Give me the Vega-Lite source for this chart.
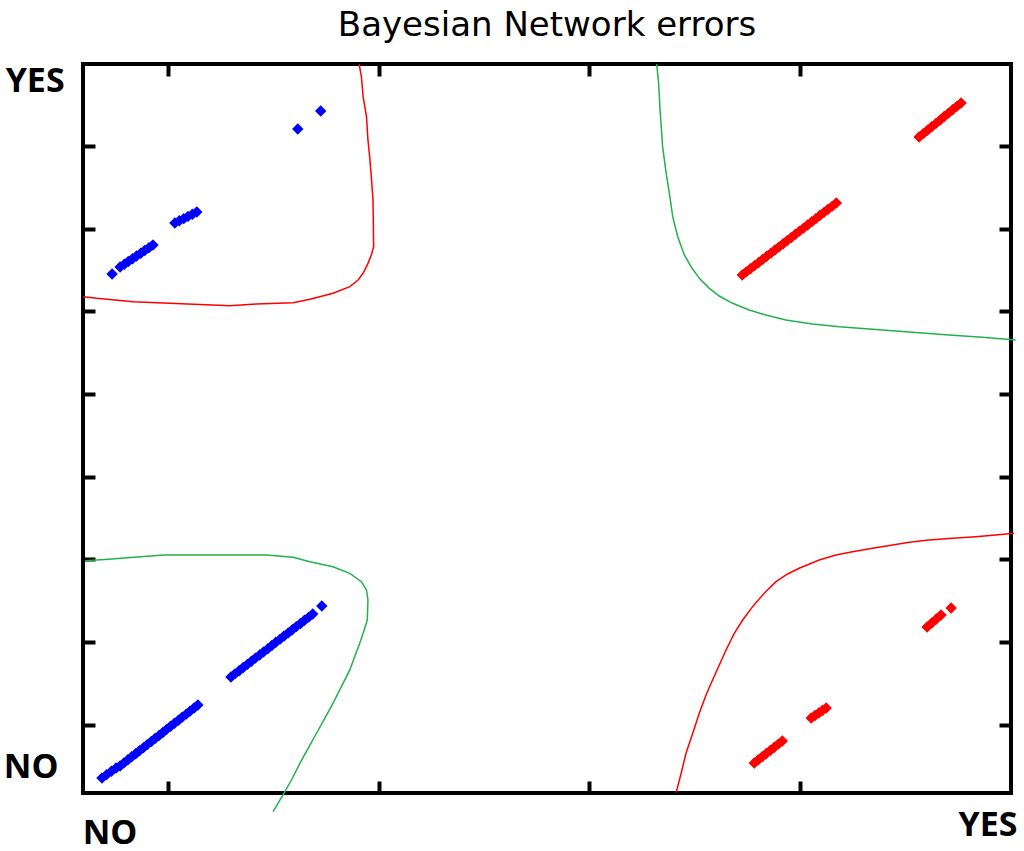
{
  "$schema": "https://vega.github.io/schema/vega-lite/v6.json",
  "autosize": {"type": "none"},
  "width": 928,
  "height": 729,
  "padding": {"left": 83, "top": 64, "right": 13, "bottom": 58},
  "background": "white",
  "view": {"stroke": "black", "strokeWidth": 4, "fill": "white"},
  "title": {"text": "Bayesian Network errors", "font": "DejaVu Sans", "fontSize": 34, "fontWeight": "normal", "color": "black", "anchor": "middle", "frame": "group", "baseline": "alphabetic", "offset": -9},
  "datasets": {
    "curves": [
      {"curve": "A", "cls": "red", "i": 0, "x": 1.907, "y": 7.988},
      {"curve": "A", "cls": "red", "i": 1, "x": 1.918, "y": 7.834},
      {"curve": "A", "cls": "red", "i": 2, "x": 1.926, "y": 7.593},
      {"curve": "A", "cls": "red", "i": 3, "x": 1.942, "y": 7.351},
      {"curve": "A", "cls": "red", "i": 4, "x": 1.949, "y": 7.069},
      {"curve": "A", "cls": "red", "i": 5, "x": 1.957, "y": 6.868},
      {"curve": "A", "cls": "red", "i": 6, "x": 1.965, "y": 6.626},
      {"curve": "A", "cls": "red", "i": 7, "x": 1.973, "y": 6.344},
      {"curve": "A", "cls": "red", "i": 8, "x": 1.976, "y": 5.780},
      {"curve": "A", "cls": "red", "i": 9, "x": 1.965, "y": 5.680},
      {"curve": "A", "cls": "red", "i": 10, "x": 1.949, "y": 5.579},
      {"curve": "A", "cls": "red", "i": 11, "x": 1.926, "y": 5.459},
      {"curve": "A", "cls": "red", "i": 12, "x": 1.902, "y": 5.378},
      {"curve": "A", "cls": "red", "i": 13, "x": 1.863, "y": 5.297},
      {"curve": "A", "cls": "red", "i": 14, "x": 1.783, "y": 5.217},
      {"curve": "A", "cls": "red", "i": 15, "x": 1.720, "y": 5.176},
      {"curve": "A", "cls": "red", "i": 16, "x": 1.673, "y": 5.144},
      {"curve": "A", "cls": "red", "i": 17, "x": 1.594, "y": 5.103},
      {"curve": "A", "cls": "red", "i": 18, "x": 1.420, "y": 5.088},
      {"curve": "A", "cls": "red", "i": 19, "x": 1.294, "y": 5.067},
      {"curve": "A", "cls": "red", "i": 20, "x": 1.009, "y": 5.096},
      {"curve": "A", "cls": "red", "i": 21, "x": 0.836, "y": 5.115},
      {"curve": "A", "cls": "red", "i": 22, "x": 0.662, "y": 5.157},
      {"curve": "A", "cls": "red", "i": 23, "x": 0.599, "y": 5.176},
      {"curve": "B", "cls": "green", "i": 0, "x": 3.319, "y": 7.988},
      {"curve": "B", "cls": "green", "i": 1, "x": 3.328, "y": 7.755},
      {"curve": "B", "cls": "green", "i": 2, "x": 3.335, "y": 7.432},
      {"curve": "B", "cls": "green", "i": 3, "x": 3.347, "y": 6.989},
      {"curve": "B", "cls": "green", "i": 4, "x": 3.364, "y": 6.667},
      {"curve": "B", "cls": "green", "i": 5, "x": 3.379, "y": 6.425},
      {"curve": "B", "cls": "green", "i": 6, "x": 3.395, "y": 6.143},
      {"curve": "B", "cls": "green", "i": 7, "x": 3.419, "y": 5.901},
      {"curve": "B", "cls": "green", "i": 8, "x": 3.450, "y": 5.680},
      {"curve": "B", "cls": "green", "i": 9, "x": 3.482, "y": 5.538},
      {"curve": "B", "cls": "green", "i": 10, "x": 3.521, "y": 5.398},
      {"curve": "B", "cls": "green", "i": 11, "x": 3.569, "y": 5.277},
      {"curve": "B", "cls": "green", "i": 12, "x": 3.616, "y": 5.184},
      {"curve": "B", "cls": "green", "i": 13, "x": 3.679, "y": 5.096},
      {"curve": "B", "cls": "green", "i": 14, "x": 3.758, "y": 5.015},
      {"curve": "B", "cls": "green", "i": 15, "x": 3.837, "y": 4.955},
      {"curve": "B", "cls": "green", "i": 16, "x": 3.932, "y": 4.894},
      {"curve": "B", "cls": "green", "i": 17, "x": 4.058, "y": 4.846},
      {"curve": "B", "cls": "green", "i": 18, "x": 4.185, "y": 4.813},
      {"curve": "B", "cls": "green", "i": 19, "x": 4.311, "y": 4.789},
      {"curve": "B", "cls": "green", "i": 20, "x": 4.438, "y": 4.765},
      {"curve": "B", "cls": "green", "i": 21, "x": 4.564, "y": 4.741},
      {"curve": "B", "cls": "green", "i": 22, "x": 4.706, "y": 4.713},
      {"curve": "B", "cls": "green", "i": 23, "x": 4.864, "y": 4.685},
      {"curve": "B", "cls": "green", "i": 24, "x": 5.022, "y": 4.653},
      {"curve": "C", "cls": "green", "i": 0, "x": 0.607, "y": 1.986},
      {"curve": "C", "cls": "green", "i": 1, "x": 0.717, "y": 2.002},
      {"curve": "C", "cls": "green", "i": 2, "x": 0.978, "y": 2.054},
      {"curve": "C", "cls": "green", "i": 3, "x": 1.468, "y": 2.054},
      {"curve": "C", "cls": "green", "i": 4, "x": 1.594, "y": 2.027},
      {"curve": "C", "cls": "green", "i": 5, "x": 1.673, "y": 1.973},
      {"curve": "C", "cls": "green", "i": 6, "x": 1.783, "y": 1.913},
      {"curve": "C", "cls": "green", "i": 7, "x": 1.863, "y": 1.833},
      {"curve": "C", "cls": "green", "i": 8, "x": 1.918, "y": 1.732},
      {"curve": "C", "cls": "green", "i": 9, "x": 1.942, "y": 1.631},
      {"curve": "C", "cls": "green", "i": 10, "x": 1.949, "y": 1.511},
      {"curve": "C", "cls": "green", "i": 11, "x": 1.946, "y": 1.269},
      {"curve": "C", "cls": "green", "i": 12, "x": 1.926, "y": 1.108},
      {"curve": "C", "cls": "green", "i": 13, "x": 1.910, "y": 0.987},
      {"curve": "C", "cls": "green", "i": 14, "x": 1.886, "y": 0.825},
      {"curve": "C", "cls": "green", "i": 15, "x": 1.863, "y": 0.665},
      {"curve": "C", "cls": "green", "i": 16, "x": 1.823, "y": 0.463},
      {"curve": "C", "cls": "green", "i": 17, "x": 1.783, "y": 0.262},
      {"curve": "C", "cls": "green", "i": 18, "x": 1.744, "y": 0.081},
      {"curve": "C", "cls": "green", "i": 19, "x": 1.705, "y": -0.100},
      {"curve": "C", "cls": "green", "i": 20, "x": 1.665, "y": -0.282},
      {"curve": "C", "cls": "green", "i": 21, "x": 1.626, "y": -0.463},
      {"curve": "C", "cls": "green", "i": 22, "x": 1.586, "y": -0.665},
      {"curve": "C", "cls": "green", "i": 23, "x": 1.546, "y": -0.846},
      {"curve": "C", "cls": "green", "i": 24, "x": 1.499, "y": -1.048},
      {"curve": "D", "cls": "red", "i": 0, "x": 3.411, "y": -0.818},
      {"curve": "D", "cls": "red", "i": 1, "x": 3.435, "y": -0.584},
      {"curve": "D", "cls": "red", "i": 2, "x": 3.458, "y": -0.342},
      {"curve": "D", "cls": "red", "i": 3, "x": 3.490, "y": -0.100},
      {"curve": "D", "cls": "red", "i": 4, "x": 3.521, "y": 0.141},
      {"curve": "D", "cls": "red", "i": 5, "x": 3.553, "y": 0.363},
      {"curve": "D", "cls": "red", "i": 6, "x": 3.584, "y": 0.544},
      {"curve": "D", "cls": "red", "i": 7, "x": 3.616, "y": 0.725},
      {"curve": "D", "cls": "red", "i": 8, "x": 3.648, "y": 0.906},
      {"curve": "D", "cls": "red", "i": 9, "x": 3.687, "y": 1.108},
      {"curve": "D", "cls": "red", "i": 10, "x": 3.727, "y": 1.269},
      {"curve": "D", "cls": "red", "i": 11, "x": 3.774, "y": 1.430},
      {"curve": "D", "cls": "red", "i": 12, "x": 3.829, "y": 1.592},
      {"curve": "D", "cls": "red", "i": 13, "x": 3.885, "y": 1.732},
      {"curve": "D", "cls": "red", "i": 14, "x": 3.940, "y": 1.825},
      {"curve": "D", "cls": "red", "i": 15, "x": 3.995, "y": 1.894},
      {"curve": "D", "cls": "red", "i": 16, "x": 4.090, "y": 1.994},
      {"curve": "D", "cls": "red", "i": 17, "x": 4.169, "y": 2.054},
      {"curve": "D", "cls": "red", "i": 18, "x": 4.248, "y": 2.094},
      {"curve": "D", "cls": "red", "i": 19, "x": 4.343, "y": 2.135},
      {"curve": "D", "cls": "red", "i": 20, "x": 4.438, "y": 2.175},
      {"curve": "D", "cls": "red", "i": 21, "x": 4.517, "y": 2.208},
      {"curve": "D", "cls": "red", "i": 22, "x": 4.611, "y": 2.236},
      {"curve": "D", "cls": "red", "i": 23, "x": 4.722, "y": 2.256},
      {"curve": "D", "cls": "red", "i": 24, "x": 4.833, "y": 2.276},
      {"curve": "D", "cls": "red", "i": 25, "x": 4.927, "y": 2.296},
      {"curve": "D", "cls": "red", "i": 26, "x": 5.014, "y": 2.317}
    ],
    "errors": [
      {"cls": "blue", "x": 0.687, "y": -0.640}, {"cls": "blue", "x": 0.709, "y": -0.600}, {"cls": "blue", "x": 0.732, "y": -0.560}, {"cls": "blue", "x": 0.754, "y": -0.520},
      {"cls": "blue", "x": 0.773, "y": -0.495}, {"cls": "blue", "x": 0.791, "y": -0.458}, {"cls": "blue", "x": 0.810, "y": -0.421}, {"cls": "blue", "x": 0.828, "y": -0.384},
      {"cls": "blue", "x": 0.847, "y": -0.348}, {"cls": "blue", "x": 0.865, "y": -0.311}, {"cls": "blue", "x": 0.884, "y": -0.274}, {"cls": "blue", "x": 0.902, "y": -0.237},
      {"cls": "blue", "x": 0.921, "y": -0.200}, {"cls": "blue", "x": 0.939, "y": -0.163}, {"cls": "blue", "x": 0.958, "y": -0.127}, {"cls": "blue", "x": 0.976, "y": -0.090},
      {"cls": "blue", "x": 0.994, "y": -0.053}, {"cls": "blue", "x": 1.013, "y": -0.016}, {"cls": "blue", "x": 1.031, "y": 0.021}, {"cls": "blue", "x": 1.050, "y": 0.058},
      {"cls": "blue", "x": 1.068, "y": 0.095}, {"cls": "blue", "x": 1.087, "y": 0.131}, {"cls": "blue", "x": 1.105, "y": 0.168}, {"cls": "blue", "x": 1.124, "y": 0.205},
      {"cls": "blue", "x": 1.142, "y": 0.242},
      {"cls": "blue", "x": 1.299, "y": 0.580}, {"cls": "blue", "x": 1.318, "y": 0.618}, {"cls": "blue", "x": 1.338, "y": 0.656}, {"cls": "blue", "x": 1.357, "y": 0.694},
      {"cls": "blue", "x": 1.377, "y": 0.732}, {"cls": "blue", "x": 1.396, "y": 0.770}, {"cls": "blue", "x": 1.415, "y": 0.808}, {"cls": "blue", "x": 1.435, "y": 0.846},
      {"cls": "blue", "x": 1.454, "y": 0.884}, {"cls": "blue", "x": 1.474, "y": 0.922}, {"cls": "blue", "x": 1.493, "y": 0.961}, {"cls": "blue", "x": 1.512, "y": 0.999},
      {"cls": "blue", "x": 1.532, "y": 1.037}, {"cls": "blue", "x": 1.551, "y": 1.075}, {"cls": "blue", "x": 1.571, "y": 1.113}, {"cls": "blue", "x": 1.590, "y": 1.151},
      {"cls": "blue", "x": 1.609, "y": 1.189}, {"cls": "blue", "x": 1.629, "y": 1.227}, {"cls": "blue", "x": 1.648, "y": 1.265}, {"cls": "blue", "x": 1.668, "y": 1.303},
      {"cls": "blue", "x": 1.687, "y": 1.341}, {"cls": "blue", "x": 1.730, "y": 1.438},
      {"cls": "blue", "x": 0.735, "y": 5.450},
      {"cls": "blue", "x": 0.773, "y": 5.535}, {"cls": "blue", "x": 0.793, "y": 5.568}, {"cls": "blue", "x": 0.812, "y": 5.602}, {"cls": "blue", "x": 0.832, "y": 5.635},
      {"cls": "blue", "x": 0.851, "y": 5.668}, {"cls": "blue", "x": 0.871, "y": 5.701}, {"cls": "blue", "x": 0.890, "y": 5.735}, {"cls": "blue", "x": 0.910, "y": 5.768},
      {"cls": "blue", "x": 0.929, "y": 5.801},
      {"cls": "blue", "x": 1.033, "y": 6.066}, {"cls": "blue", "x": 1.054, "y": 6.093}, {"cls": "blue", "x": 1.075, "y": 6.119}, {"cls": "blue", "x": 1.095, "y": 6.146},
      {"cls": "blue", "x": 1.116, "y": 6.172}, {"cls": "blue", "x": 1.137, "y": 6.199},
      {"cls": "blue", "x": 1.616, "y": 7.202}, {"cls": "blue", "x": 1.725, "y": 7.420},
      {"cls": "red", "x": 3.725, "y": 5.438}, {"cls": "red", "x": 3.744, "y": 5.476}, {"cls": "red", "x": 3.764, "y": 5.514}, {"cls": "red", "x": 3.783, "y": 5.551},
      {"cls": "red", "x": 3.803, "y": 5.589}, {"cls": "red", "x": 3.822, "y": 5.627}, {"cls": "red", "x": 3.841, "y": 5.665}, {"cls": "red", "x": 3.861, "y": 5.703},
      {"cls": "red", "x": 3.880, "y": 5.741}, {"cls": "red", "x": 3.900, "y": 5.778}, {"cls": "red", "x": 3.919, "y": 5.816}, {"cls": "red", "x": 3.938, "y": 5.854},
      {"cls": "red", "x": 3.958, "y": 5.892}, {"cls": "red", "x": 3.977, "y": 5.930}, {"cls": "red", "x": 3.996, "y": 5.968}, {"cls": "red", "x": 4.016, "y": 6.005},
      {"cls": "red", "x": 4.035, "y": 6.043}, {"cls": "red", "x": 4.055, "y": 6.081}, {"cls": "red", "x": 4.074, "y": 6.119}, {"cls": "red", "x": 4.093, "y": 6.157},
      {"cls": "red", "x": 4.113, "y": 6.195}, {"cls": "red", "x": 4.132, "y": 6.232}, {"cls": "red", "x": 4.152, "y": 6.270}, {"cls": "red", "x": 4.171, "y": 6.308},
      {"cls": "red", "x": 4.564, "y": 7.106}, {"cls": "red", "x": 4.584, "y": 7.147}, {"cls": "red", "x": 4.604, "y": 7.188}, {"cls": "red", "x": 4.624, "y": 7.229},
      {"cls": "red", "x": 4.644, "y": 7.270}, {"cls": "red", "x": 4.664, "y": 7.312}, {"cls": "red", "x": 4.683, "y": 7.353}, {"cls": "red", "x": 4.703, "y": 7.394},
      {"cls": "red", "x": 4.723, "y": 7.435}, {"cls": "red", "x": 4.743, "y": 7.476}, {"cls": "red", "x": 4.763, "y": 7.517},
      {"cls": "red", "x": 3.782, "y": -0.459}, {"cls": "red", "x": 3.801, "y": -0.421}, {"cls": "red", "x": 3.820, "y": -0.383}, {"cls": "red", "x": 3.839, "y": -0.345},
      {"cls": "red", "x": 3.858, "y": -0.307}, {"cls": "red", "x": 3.877, "y": -0.269}, {"cls": "red", "x": 3.896, "y": -0.231}, {"cls": "red", "x": 3.915, "y": -0.193},
      {"cls": "red", "x": 4.052, "y": 0.085}, {"cls": "red", "x": 4.070, "y": 0.115}, {"cls": "red", "x": 4.088, "y": 0.145}, {"cls": "red", "x": 4.105, "y": 0.175},
      {"cls": "red", "x": 4.123, "y": 0.205},
      {"cls": "red", "x": 4.602, "y": 1.184}, {"cls": "red", "x": 4.624, "y": 1.232}, {"cls": "red", "x": 4.646, "y": 1.281}, {"cls": "red", "x": 4.668, "y": 1.329},
      {"cls": "red", "x": 4.716, "y": 1.414}
    ],
    "labels": [
      {"label": "YES", "x": 0.370, "y": 7.650},
      {"label": "NO", "x": 0.351, "y": -0.640},
      {"label": "NO", "x": 0.725, "y": -1.440},
      {"label": "YES", "x": 4.891, "y": -1.341}
    ]
  },
  "resolve": {"axis": {"x": "independent", "y": "independent"}},
  "layer": [
    {
      "data": {"name": "curves"},
      "mark": {"type": "line", "strokeWidth": 1.5, "clip": false},
      "encoding": {
        "x": {"field": "x", "type": "quantitative", "scale": {"domain": [0.597, 5.0], "nice": false, "zero": false},
              "axis": {"orient": "bottom", "values": [1, 2, 3, 4], "labels": false, "domain": false, "grid": false, "ticks": true, "tickSize": -12, "tickWidth": 4, "tickColor": "black", "title": null}},
        "y": {"field": "y", "type": "quantitative", "scale": {"domain": [-0.822, 7.988], "nice": false, "zero": false},
              "axis": {"orient": "left", "values": [0, 1, 2, 3, 4, 5, 6, 7], "labels": false, "domain": false, "grid": false, "ticks": true, "tickSize": -12, "tickWidth": 4, "tickColor": "black", "title": null}},
        "detail": {"field": "curve"},
        "order": {"field": "i", "type": "quantitative"},
        "color": {"field": "cls", "type": "nominal", "scale": {"domain": ["blue", "red", "green"], "range": ["#0000FF", "#FF0000", "#22B14C"]}, "legend": null}
      }
    },
    {
      "data": {"name": "errors"},
      "mark": {"type": "point", "shape": "diamond", "filled": true, "size": 130, "opacity": 1, "clip": false},
      "encoding": {
        "x": {"field": "x", "type": "quantitative",
              "axis": {"orient": "top", "values": [1, 2, 3, 4], "labels": false, "domain": false, "grid": false, "ticks": true, "tickSize": -12, "tickWidth": 4, "tickColor": "black", "title": null}},
        "y": {"field": "y", "type": "quantitative",
              "axis": {"orient": "right", "values": [0, 1, 2, 3, 4, 5, 6, 7], "labels": false, "domain": false, "grid": false, "ticks": true, "tickSize": -12, "tickWidth": 4, "tickColor": "black", "title": null}},
        "color": {"field": "cls", "type": "nominal", "legend": null}
      }
    },
    {
      "data": {"name": "labels"},
      "mark": {"type": "text", "font": "Open Sans", "fontWeight": "bold", "fontSize": 34, "align": "center", "baseline": "alphabetic", "color": "black", "clip": false},
      "encoding": {
        "x": {"field": "x", "type": "quantitative", "axis": null},
        "y": {"field": "y", "type": "quantitative", "axis": null},
        "text": {"field": "label"}
      }
    }
  ]
}
